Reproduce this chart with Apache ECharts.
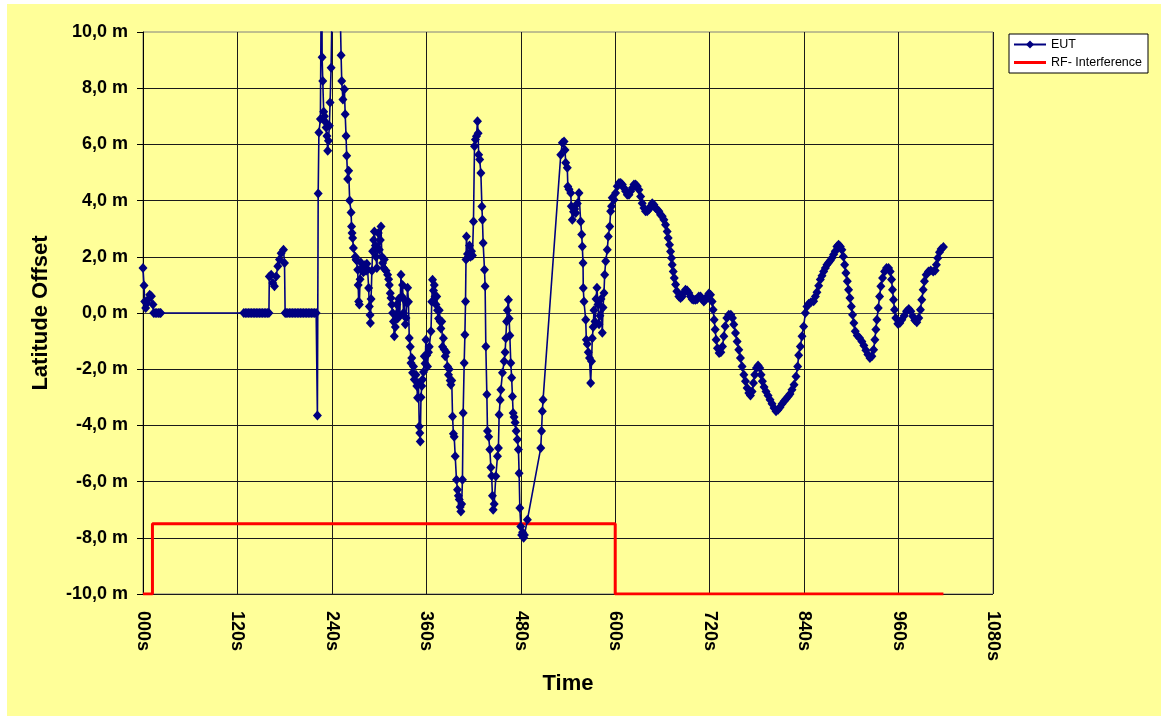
<!DOCTYPE html>
<html>
<head>
<meta charset="utf-8">
<title>Latitude Offset</title>
<script src="https://cdn.jsdelivr.net/npm/echarts@6/dist/echarts.min.js"></script>
<style>
  html, body { margin: 0; padding: 0; background: #fff; }
  #chart { position: absolute; left: 7px; top: 4px; width: 1154px; height: 712px; background: #FFFF99; }
</style>
</head>
<body>
<div id="chart"></div>
<script>
// time axis ticks (seconds)
const timeTicks = [0, 120, 240, 360, 480, 600, 720, 840, 960, 1080];
const offsetTicks = [-10, -8, -6, -4, -2, 0, 2, 4, 6, 8, 10];

// EUT latitude offset, [time s, offset m]
const eutPoints = [
  [0,1.6],[1.3,0.98],[2.2,0.41],[3.4,0.18],[5,0.35],[6.3,0.47],[8.5,0.65],[10.7,0.6],[12.7,0.3],
  [13.6,0],[15.5,0],[17.5,0],[19.5,0],[21.5,0],[22.5,0],
  [128,0],[130,0],[132,0],[134,0],[136,0],[138,0],[140,0],[142,0],[144,0],[146,0],[148,0],[150,0],
  [152,0],[154,0],[156,0],[158,0],[160,0],
  [160.5,1.3],[162.9,1.36],[164.9,1.07],[167,0.95],[169.2,1.3],[171.3,1.66],[173.4,1.9],[175.5,2.13],
  [178.5,2.25],[179.8,1.78],[180.6,0],
  [182,0],[184,0],[186,0],[188,0],[190,0],[192,0],[194,0],[196,0],[198,0],[200,0],[202,0],[204,0],
  [206,0],[208,0],[210,0],[212,0],[214,0],[216,0],[218,0],[220,0],[221.6,-3.65],
  [222.6,4.25],[223.5,6.42],[225.4,6.9],[227,14],[227.6,9.1],[228.4,8.26],[229.6,7.16],[230.5,7.0],
  [231.8,6.8],[232.7,6.6],[233.7,6.3],[234.7,5.77],[235.6,6.13],[236.8,6.66],[237.7,7.49],[239,8.73],
  [241.9,14],[248.3,14],[251.7,9.17],[252.5,8.26],[254,7.6],[255.9,7.96],[256.9,7.07],[258,6.3],
  [258.8,5.6],[260.1,4.77],[261.3,5.06],[262.6,4.0],[264.4,3.58],[265,3.08],[265.6,2.85],[266.4,2.67],
  [267.3,2.31],[269.8,2.0],[270.7,1.9],[271.5,1.87],[272.8,1.54],[273.4,1.0],[274,0.41],[274.9,0.3],
  [275.8,1.2],[276.8,1.8],[278.3,1.6],[280,1.45],[281.6,1.7],[283.4,1.5],[284.4,1.75],[285.4,1.55],
  [286.7,0.89],[287.6,0.23],[288.5,-0.07],[288.9,-0.36],[289.8,0.5],[290.8,1.5],[291.8,2.2],[293.1,2.6],
  [294,2.9],[295.2,2.4],[296.1,2.0],[297.1,1.6],[298.1,2.3],[299,2.85],[300.3,2.25],[301.5,2.6],
  [302.4,3.08],[303.5,2.0],[304.5,1.78],[305.7,1.6],[306.6,1.9],[308.8,1.5],[310.8,1.36],[312.1,1.2],
  [313,1.0],[314.2,0.7],[315.1,0.53],[316.1,0.3],[317.2,0.0],[318.3,-0.3],[319.3,-0.83],[320.6,-0.5],
  [321.5,-0.06],[322.5,0.3],[323.5,-0.2],[324.8,0.5],[326.3,-0.1],[327.8,1.36],[328.8,0.6],[329.8,1.0],
  [331,0.0],[332,0.47],[333.3,-0.4],[334.2,-0.18],[335.2,0.36],[336.2,0.9],[337.3,0.4],[338.3,-0.89],
  [339.6,-1.2],[340.5,-1.78],[341.5,-1.6],[342.5,-2.13],[343.7,-1.9],[344.7,-2.37],[346.8,-2.2],
  [347.9,-2.6],[348.9,-3.02],[350,-2.5],[351,-4.04],[351.7,-4.27],[352.3,-4.57],[353.2,-3.0],
  [354.2,-2.6],[355.2,-2.37],[356.4,-2.1],[357.4,-1.54],[358.4,-1.8],[359.5,-0.95],[360.5,-1.5],
  [361.5,-1.9],[362.7,-1.4],[363.7,-1.2],[365.9,-0.65],[366.9,0.4],[367.9,1.18],[369.1,0.8],[370.1,1.0],
  [371.1,0.59],[372.2,0.3],[373.2,0.59],[374.2,0.1],[375.5,-0.2],[376.4,0.1],[377.7,-0.3],[378.5,-0.55],
  [379.6,-0.3],[380.6,-1.2],[381.7,-0.9],[382.7,-1.3],[384,-1.54],[385.3,-1.4],[386.9,-1.9],[388.2,-2.2],
  [389.1,-2.0],[390.3,-2.4],[391.2,-2.55],[392.3,-2.4],[393.3,-3.68],[394.4,-4.3],[395.4,-4.4],
  [396.7,-5.1],[398.3,-5.93],[399.6,-6.29],[400.7,-6.5],[401.8,-6.64],[403,-6.9],[403.9,-7.06],
  [404.9,-6.8],[405.9,-5.93],[406.8,-3.56],[408.1,-1.78],[409,-0.77],[409.8,0.41],[410.4,1.9],[411,2.72],
  [412.3,2.1],[413.6,2.0],[414.8,2.4],[416.1,2.0],[417.4,2.2],[418.6,2.05],[419.9,3.26],[421.2,5.93],
  [422.4,6.17],[423.7,6.29],[425,6.82],[425.8,6.4],[426.5,5.63],[427.8,5.46],[429.3,4.98],[430.6,3.79],
  [431.3,3.32],[432.2,2.49],[433.9,1.54],[434.7,0.95],[435.6,-1.19],[436.9,-2.9],[437.7,-4.2],
  [439.2,-4.4],[440.7,-4.86],[442,-5.5],[443,-5.8],[444,-6.5],[444.9,-7.0],[446.2,-6.8],[448.3,-5.81],
  [450.4,-5.1],[451.6,-4.8],[452.5,-3.62],[453.8,-3.1],[454.7,-2.73],[456.7,-2.13],[458.9,-1.72],
  [460.1,-1.4],[461,-0.9],[462,-0.3],[463,0.1],[464.3,0.47],[465.2,-0.2],[466.1,-0.8],[467.3,-1.78],
  [468.4,-2.3],[469.4,-2.97],[470.3,-3.56],[471.5,-3.7],[472.8,-3.9],[474.1,-4.2],[475.7,-4.5],
  [477,-4.86],[477.9,-5.7],[478.8,-6.94],[480,-7.6],[481.1,-7.9],[482.3,-7.8],[483.6,-8.0],[484.6,-7.9],
  [488.4,-7.36],[505.4,-4.8],[506.4,-4.2],[507.4,-3.5],[508.3,-3.09],
  [530.8,5.63],[532.8,6.06],[535,6.1],[536.2,5.8],[537.1,5.35],[539.1,5.17],[539.8,4.5],[541.3,4.4],
  [543.5,4.27],[544.2,3.8],[545.5,3.32],[547,3.6],[548.5,3.7],[549.8,3.56],[551.8,3.9],[554,4.27],
  [556.1,3.26],[557.4,2.79],[558.2,2.37],[559.1,1.78],[559.4,0.89],[560.3,0.41],[562.5,-0.24],
  [563.3,-0.95],[564.5,-1.1],[565.8,-1.4],[567.3,-1.6],[568.8,-2.49],[569.9,-1.72],[570.9,-0.9],
  [572,-0.5],[573,0.1],[574.3,-0.3],[575.6,0.5],[576.8,0.9],[578.1,0.3],[579.4,-0.4],[580.6,-0.1],
  [581.9,0.5],[583.6,-0.7],[584.5,0.2],[585.7,0.71],[586.6,1.36],[587.9,1.84],[589.9,2.25],[591.2,2.72],
  [593,3.08],[594.2,3.62],[595.3,3.8],[596.2,4.1],
  [598.4,4.03],[600.5,4.27],[602.6,4.51],[604.8,4.63],[606.9,4.63],[609,4.57],[611.1,4.45],[613.2,4.33],
  [615.3,4.21],[617.5,4.21],[619.6,4.33],[621.7,4.45],[623.8,4.57],[625.9,4.57],[628,4.51],[630.1,4.39],
  [632.3,4.15],[634.3,3.91],[636.5,3.74],[638.5,3.62],[640.6,3.62],[642.8,3.68],[645,3.8],[647,3.91],
  [649.2,3.85],[651.2,3.74],[653.3,3.68],[655.5,3.62],[657.6,3.5],[659.7,3.44],[661.8,3.32],[663.9,3.14],
  [666,2.9],[667.3,2.67],[669,2.43],[670.3,2.19],[671.5,1.96],[672.4,1.72],[673.7,1.48],[675,1.25],
  [676.7,1.01],[678.3,0.77],[680.9,0.59],[683,0.53],[685.1,0.59],[687.2,0.73],[689.3,0.83],[691.4,0.8],
  [693.6,0.71],[695.7,0.59],[697.8,0.49],[699.9,0.47],[702,0.47],[704.1,0.49],[706.2,0.59],[708.4,0.59],
  [710.5,0.49],[712.6,0.41],[714.7,0.47],[716.8,0.59],[719,0.69],[721.1,0.65],[723.1,0.41],[724.4,0.12],
  [725.7,-0.24],[727,-0.59],[728.2,-0.95],[729.9,-1.25],[732,-1.42],[734.2,-1.4],[736.3,-1.19],
  [738,-0.83],[739.7,-0.47],[741.8,-0.18],[744.3,-0.06],[746.9,-0.06],[749,-0.18],[750.6,-0.41],
  [752.8,-0.71],[754.9,-1.01],[757,-1.31],[759.1,-1.6],[761.2,-1.9],[763.4,-2.2],[765.5,-2.43],
  [767.6,-2.67],[769.7,-2.85],[771.8,-2.94],[773.9,-2.79],[775.6,-2.49],[777.3,-2.2],[779.4,-1.96],
  [781.5,-1.87],[783.7,-1.96],[785.3,-2.2],[787,-2.43],[789.1,-2.63],[791.6,-2.79],[794.2,-2.94],
  [796.7,-3.09],[799.2,-3.23],[801.8,-3.38],[804.3,-3.5],[806.9,-3.44],[809.4,-3.35],[811.9,-3.24],
  [814.5,-3.14],[817,-3.06],[819.6,-2.97],[822.1,-2.88],[824.6,-2.73],[827.2,-2.55],[829.7,-2.26],
  [831.8,-1.9],[833.1,-1.5],[835.2,-1.19],[837.3,-0.83],[839.4,-0.48],[841.6,0],[843.6,0.23],
  [845.8,0.33],[848.7,0.38],[852.1,0.42],[854.3,0.59],[856.3,0.74],[858.5,0.97],[860.6,1.19],
  [862.7,1.33],[864.8,1.48],[867,1.6],[869,1.72],[871.2,1.8],[873.3,1.87],[875.3,1.96],[877.5,2.08],
  [879.6,2.2],[881.7,2.37],[883.8,2.43],[886,2.37],[888,2.25],[889.8,2.01],[891.5,1.72],[893.1,1.42],
  [894.9,1.13],[896.5,0.83],[898.2,0.53],[900,0.23],[901.6,-0.06],[903.2,-0.36],[905,-0.65],
  [907.5,-0.8],[910.5,-0.89],[913.4,-1.01],[915.9,-1.16],[918.5,-1.33],[921,-1.48],[923.6,-1.6],
  [926.1,-1.54],[928.3,-1.31],[929.9,-0.95],[931.2,-0.59],[932.5,-0.24],[934.2,0.18],[935.9,0.59],
  [937.5,0.95],[939.7,1.25],[942.2,1.48],[944.7,1.6],[947.3,1.6],[949.4,1.48],[951.1,1.19],[952.3,0.83],
  [953.6,0.47],[954.9,0.12],[956.5,-0.18],[959.1,-0.38],[961.6,-0.36],[964.1,-0.24],[967.2,-0.1],
  [970.1,0.06],[973,0.14],[975.6,0.06],[978.1,-0.12],[980.6,-0.26],[983.2,-0.33],[985.7,-0.18],
  [987.8,0.12],[989.5,0.47],[991.3,0.83],[992.9,1.13],[995.1,1.36],[998,1.48],[1000.9,1.51],[1004,1.48],
  [1006.5,1.51],[1008.1,1.72],[1009.8,1.96],[1012,2.16],[1014.1,2.28],[1017,2.35]
];

// RF interference level (step)
const rfTime  = [0, 12, 12, 600, 600, 1017];
const rfLevel = [-10, -10, -7.5, -7.5, -10, -10];

const font = "'Liberation Sans', Arial, sans-serif";
let mychart = echarts.init(document.getElementById('chart'));

mychart.setOption({
  animation: false,
  textStyle: { fontFamily: font },
  grid: { left: 136, top: 28, width: 850, height: 562, show: true, borderColor: '#808080', borderWidth: 1 },
  legend: {
    data: [
      { name: 'EUT' },
      // plain red bar, no marker
      { name: 'RF- Interference', icon: 'path://M0,0h32v3h-32z' }
    ],
    orient: 'vertical',
    left: 1002, top: 30,
    backgroundColor: '#fff', borderColor: '#000', borderWidth: 1, borderRadius: 0,
    padding: [4, 6, 4, 4],
    itemGap: 5, itemWidth: 32, itemHeight: 10,
    textStyle: { fontSize: 12.5, color: '#000', fontFamily: font }
  },
  xAxis: {
    type: 'value',
    min: timeTicks[0], max: timeTicks[timeTicks.length - 1], interval: 120,
    name: 'Time', nameLocation: 'middle', nameGap: 79,
    nameTextStyle: { fontSize: 22, fontWeight: 'bold', color: '#000', fontFamily: font },
    axisLine: { lineStyle: { color: '#404040' } },
    axisTick: { length: 6, lineStyle: { color: '#000' } },
    axisLabel: {
      rotate: -90, margin: 17, fontSize: 18, fontWeight: 'bold', color: '#000', fontFamily: font,
      formatter: v => String(v).padStart(3, '0') + 's'
    },
    splitLine: { show: true, lineStyle: { color: '#1a1a1a', width: 1 } }
  },
  yAxis: {
    type: 'value',
    min: offsetTicks[0], max: offsetTicks[offsetTicks.length - 1], interval: 2,
    name: 'Latitude Offset', nameLocation: 'middle', nameGap: 91,
    nameTextStyle: { fontSize: 22, fontWeight: 'bold', color: '#000', fontFamily: font },
    axisLine: { show: true, lineStyle: { color: '#000' } },
    axisTick: { show: true, length: 6, lineStyle: { color: '#000' } },
    axisLabel: {
      margin: 15, fontSize: 18, fontWeight: 'bold', color: '#000', fontFamily: font,
      formatter: v => v.toFixed(1).replace('.', ',') + ' m'
    },
    splitLine: { show: true, showMaxLine: false, lineStyle: { color: '#1a1a1a', width: 1 } }
  },
  series: [
    {
      name: 'RF- Interference',
      type: 'line',
      data: rfTime.map((t, i) => [t, rfLevel[i]]),
      symbol: 'none',
      lineStyle: { color: '#FF0000', width: 3 },
      itemStyle: { color: '#FF0000' },
      silent: true
    },
    {
      name: 'EUT',
      type: 'line',
      data: eutPoints,
      symbol: 'diamond',
      symbolSize: [9, 10],
      showAllSymbol: true,
      lineStyle: { color: '#000080', width: 1.6 },
      itemStyle: { color: '#000080' },
      silent: true
    }
  ]
});
</script>
</body>
</html>
